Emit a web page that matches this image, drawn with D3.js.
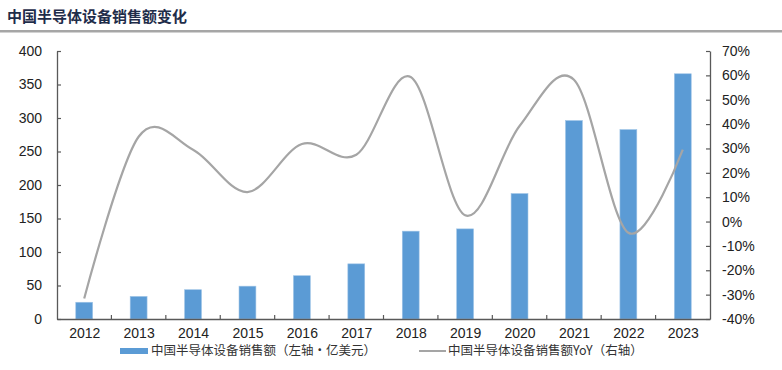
<!DOCTYPE html>
<html>
<head>
<meta charset="utf-8">
<script src="https://cdn.jsdelivr.net/npm/d3@7"></script>
<style>
  body { margin: 0; background: #fff; }
  svg text { font-family: "Liberation Sans", Arial, sans-serif; }
  .cjk { font-family: "Noto Sans CJK SC", sans-serif; }
</style>
</head>
<body>
<div id="container"></div>
<script>
/* DATA */
const years = ["2012","2013","2014","2015","2016","2017","2018","2019","2020","2021","2022","2023"]
const sales = [25, 33.7, 43.7, 49, 64.6, 82.3, 131.1, 134.5, 187.2, 296.2, 282.7, 366]
const yoy = [-31.6, 34.8, 29.5, 12.1, 31.8, 27.4, 59.3, 2.6, 39.2, 58.2, -4.6, 29.5]
const leftTicks = [0, 50, 100, 150, 200, 250, 300, 350, 400]
const rightTicks = [-40, -30, -20, -10, 0, 10, 20, 30, 40, 50, 60, 70]
const title = "中国半导体设备销售额变化"
const legendBar = "中国半导体设备销售额（左轴·亿美元）"
const legendLine = "中国半导体设备销售额YoY（右轴）"

/* CONSTANTS */
const width = 782, height = 370
const margin = { top: 51, bottom: 51, left: 57, right: 72 }
const axisColor = "#595959"

const svg = d3.select("#container")
  .append("svg")
  .attr("width", width)
  .attr("height", height)

// title + rule
svg.append("text")
  .attr("class", "cjk")
  .attr("x", 7)
  .attr("y", 22)
  .attr("font-size", 15)
  .attr("font-weight", "bold")
  .attr("fill", "#1f2d4a")
  .text(title)

svg.append("rect")
  .attr("x", 0).attr("y", 30)
  .attr("width", width).attr("height", 2.5)
  .attr("fill", "#a6a6a6")

/* SCALES */
const xScale = d3.scaleBand()
  .domain(years)
  .range([margin.left, width - margin.right])
  .paddingInner(0.69)
  .paddingOuter(0.345)

const xCenter = d3.scalePoint()
  .domain(years)
  .range([margin.left, width - margin.right])
  .padding(0.5)

const yLeft = d3.scaleLinear()
  .domain([0, 400])
  .range([height - margin.bottom, margin.top])

const yRight = d3.scaleLinear()
  .domain([-40, 70])
  .range([height - margin.bottom, margin.top])

/* BARS */
svg.selectAll(".bar")
  .data(years)
  .join("rect")
  .attr("class", "bar")
  .attr("x", d => xScale(d))
  .attr("width", xScale.bandwidth())
  .attr("y", (d, i) => yLeft(sales[i]))
  .attr("height", (d, i) => yLeft(0) - yLeft(sales[i]))
  .attr("fill", "#5b9bd5")
  .attr("stroke", "#9dc3e6")
  .attr("stroke-width", 0.6)

/* LINE */
const line = d3.line()
  .x((d, i) => xCenter(years[i]))
  .y(d => yRight(d))
  .curve(d3.curveCardinal.tension(0))

svg.append("path")
  .datum(yoy)
  .attr("d", line)
  .attr("fill", "none")
  .attr("stroke", "#a5a5a5")
  .attr("stroke-width", 2.2)

/* AXES */
const leftAxis = d3.axisLeft(yLeft)
  .tickValues(leftTicks)
  .tickSize(-4)
  .tickPadding(15)
  .tickSizeOuter(0)

const rightAxis = d3.axisRight(yRight)
  .tickValues(rightTicks)
  .tickSize(-4)
  .tickPadding(12)
  .tickSizeOuter(0)
  .tickFormat(d => d + "%")

const bottomAxis = d3.axisBottom(xCenter)
  .tickSize(0)
  .tickPadding(9)

function styleAxis(g) {
  g.select(".domain").attr("stroke", axisColor).attr("stroke-width", 1.3)
  g.selectAll(".tick line").attr("stroke", axisColor).attr("stroke-width", 1.2)
  g.selectAll("text").attr("font-size", 14).attr("fill", "#222")
  g.attr("font-family", null)
}

svg.append("g")
  .attr("transform", `translate(${margin.left},0)`)
  .call(leftAxis)
  .call(styleAxis)

svg.append("g")
  .attr("transform", `translate(${width - margin.right},0)`)
  .call(rightAxis)
  .call(styleAxis)

svg.append("g")
  .attr("transform", `translate(0,${height - margin.bottom})`)
  .call(bottomAxis)
  .call(styleAxis)

// category boundary ticks on the x axis
const step = xScale.step()
svg.selectAll(".xtick")
  .data(years.slice(1))
  .join("line")
  .attr("class", "xtick")
  .attr("x1", d => xCenter(d) - step / 2)
  .attr("x2", d => xCenter(d) - step / 2)
  .attr("y1", height - margin.bottom)
  .attr("y2", height - margin.bottom - 4)
  .attr("stroke", axisColor)
  .attr("stroke-width", 1.2)

/* LEGEND */
const legY = 351
svg.append("rect")
  .attr("x", 120).attr("y", legY - 3)
  .attr("width", 28).attr("height", 6)
  .attr("fill", "#5b9bd5")

svg.append("text")
  .attr("class", "cjk")
  .attr("x", 151).attr("y", legY)
  .attr("dy", "0.35em")
  .attr("font-size", 12.5)
  .attr("fill", "#333")
  .text(legendBar)

svg.append("line")
  .attr("x1", 419).attr("x2", 446)
  .attr("y1", legY).attr("y2", legY)
  .attr("stroke", "#a5a5a5")
  .attr("stroke-width", 2)

svg.append("text")
  .attr("class", "cjk")
  .attr("x", 448).attr("y", legY)
  .attr("dy", "0.35em")
  .attr("font-size", 12.5)
  .attr("fill", "#333")
  .text(legendLine)
</script>
</body>
</html>
